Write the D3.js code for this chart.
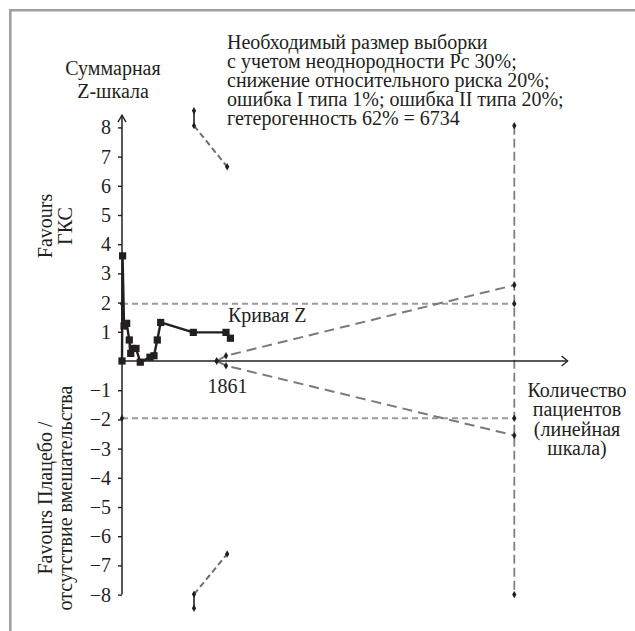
<!DOCTYPE html>
<html>
<head>
<meta charset="utf-8">
<script src="https://cdn.jsdelivr.net/npm/d3@7"></script>
<style>
  html, body { margin: 0; padding: 0; background: #fff; }
  svg { display: block; }
</style>
</head>
<body>
<svg id="chart" width="635" height="631"></svg>
<script>
// Cumulative Z-curve (number of patients vs cumulative Z-score)
const zPatients = [0, 10, 35, 80, 125, 150, 177, 240, 314, 480, 549, 606, 664, 1224, 1785, 1861];
const zScores   = [0, 3.6, 1.2, 1.29, 0.72, 0.26, 0.43, 0.43, -0.04, 0.13, 0.18, 0.72, 1.32, 0.98, 0.98, 0.78];

// Trial sequential monitoring boundaries (benefit / harm)
const tsbPatients = [1236, 1236, 1805];
const tsbUpper    = [8.57, 8.06, 6.65];
const tsbLower    = [-8.47, -7.99, -6.61];

// Futility (inner wedge) boundaries
const futPatients = [1625, 1785, 6734];
const futUpper    = [0, 0.18, 2.6];
const futLower    = [0, -0.16, -2.55];

// Conventional significance levels
const conventionalZ = [1.96, -1.96];

// Required information size
const requiredSize = 6734;
const ris = { top: 8.06, bottom: -8 };
const accrued = 1861;

// Axis extents and ticks
const yTicks = [-8, -7, -6, -5, -4, -3, -2, -1, 1, 2, 3, 4, 5, 6, 7, 8];
const xAxisEnd = 7650;
const yAxisTop = 8.42;

const annotationLines = [
  "Необходимый размер выборки",
  "с учетом неоднородности Рс 30%;",
  "снижение относительного риска 20%;",
  "ошибка I типа 1%; ошибка II типа 20%;",
  "гетерогенность 62% = 6734"
];
const yTitleLines = ["Суммарная", "Z-шкала"];
const xTitleLines = ["Количество", "пациентов", "(линейная", "шкала)"];
const favoursTop = ["Favours", "ГКС"];
const favoursBottom = ["Favours Плацебо /", "отсутствие вмешательства"];

const FONT = "'Liberation Serif', 'Times New Roman', serif";
const INK = "#231f20";
const fs = 20;

const svg = d3.select("#chart");
const x = d3.scaleLinear().domain([0, requiredSize]).range([122, 514.3]);
const y = d3.scaleLinear().domain([-8, 8]).range([594.6, 127.4]);

function label(sel) {
  return sel.style("font-family", FONT).style("font-size", fs + "px").attr("fill", INK);
}

// Figure frame (top and left rule)
svg.append("line").attr("x1", 10.3).attr("x2", 635).attr("y1", 10.3).attr("y2", 10.3)
  .attr("stroke", "#a0a0a0").attr("stroke-width", 2.6);
svg.append("line").attr("x1", 10.3).attr("x2", 10.3).attr("y1", 9).attr("y2", 631)
  .attr("stroke", "#a0a0a0").attr("stroke-width", 2.6);

const line = d3.line().x(d => x(d[0])).y(d => y(d[1]));
const zip = (a, b) => a.map((v, i) => [v, b[i]]);

// Conventional ±1.96 lines
conventionalZ.forEach(z => {
  svg.append("path").datum([[0, z], [requiredSize, z]])
    .attr("d", line).attr("fill", "none")
    .attr("stroke", "#9a9a9a").attr("stroke-width", 1.8).attr("stroke-dasharray", "6,4");
});

// Required information size vertical line
svg.append("path").datum([[requiredSize, ris.top], [requiredSize, ris.bottom]])
  .attr("d", line).attr("fill", "none")
  .attr("stroke", "#808080").attr("stroke-width", 1.8).attr("stroke-dasharray", "9,4");

// Futility wedge
[futUpper, futLower].forEach(vals => {
  svg.append("path").datum(zip(futPatients, vals))
    .attr("d", line).attr("fill", "none")
    .attr("stroke", "#7a7a7a").attr("stroke-width", 2).attr("stroke-dasharray", "10,6");
});

// Monitoring boundaries: solid first step, dashed after
[tsbUpper, tsbLower].forEach(vals => {
  const pts = zip(tsbPatients, vals);
  svg.append("path").datum(pts.slice(0, 2))
    .attr("d", line).attr("fill", "none")
    .attr("stroke", INK).attr("stroke-width", 1.6);
  svg.append("path").datum(pts.slice(1))
    .attr("d", line).attr("fill", "none")
    .attr("stroke", "#6e6e6e").attr("stroke-width", 2).attr("stroke-dasharray", "6,3.5");
});

// Axes
const yAxis = d3.axisLeft(y).tickValues(yTicks).tickSize(4).tickPadding(7)
  .tickFormat(d => d < 0 ? "\u2212" + Math.abs(d) : String(d));
const gy = svg.append("g").attr("transform", `translate(${x(0)},0)`).call(yAxis);
gy.select(".domain").remove();
gy.selectAll(".tick line").attr("stroke", INK).attr("stroke-width", 1.4);
label(gy.selectAll(".tick text"));

svg.append("line").attr("x1", x(0)).attr("x2", x(0)).attr("y1", y(-8)).attr("y2", y(yAxisTop))
  .attr("stroke", INK).attr("stroke-width", 1.5);
svg.append("path")
  .attr("d", `M${x(0) - 4},${y(yAxisTop) + 7} L${x(0)},${y(yAxisTop)} L${x(0) + 4},${y(yAxisTop) + 7}`)
  .attr("fill", "none").attr("stroke", INK).attr("stroke-width", 1.3);

svg.append("line").attr("x1", x(0)).attr("x2", x(xAxisEnd)).attr("y1", y(0)).attr("y2", y(0))
  .attr("stroke", INK).attr("stroke-width", 1.5);
svg.append("path")
  .attr("d", `M${x(xAxisEnd) - 6},${y(0) - 5} L${x(xAxisEnd)},${y(0)} L${x(xAxisEnd) - 6},${y(0) + 5}`)
  .attr("fill", "none").attr("stroke", INK).attr("stroke-width", 1.3);

// Boundary markers
const markerPts = []
  .concat(conventionalZ.flatMap(z => [[0, z], [requiredSize, z]]))
  .concat([[requiredSize, ris.top], [requiredSize, ris.bottom]])
  .concat(zip(futPatients, futUpper), zip(futPatients, futLower))
  .concat(zip(tsbPatients, tsbUpper), zip(tsbPatients, tsbLower));
svg.append("g").selectAll("path").data(markerPts).join("path")
  .attr("transform", d => `translate(${x(d[0])},${y(d[1])})`)
  .attr("d", d3.symbol(d3.symbolDiamond, 16))
  .attr("fill", INK);

// Z-curve
const zData = zip(zPatients, zScores);
svg.append("path").datum(zData).attr("d", line).attr("fill", "none")
  .attr("stroke", INK).attr("stroke-width", 2.4).attr("stroke-linejoin", "round");
svg.append("g").selectAll("rect").data(zData).join("rect")
  .attr("x", d => x(d[0]) - 3.6).attr("y", d => y(d[1]) - 3.6)
  .attr("width", 7.2).attr("height", 7.2).attr("fill", INK);

// Texts
const ann = label(svg.append("text").attr("x", 227).attr("y", 49));
annotationLines.forEach((t, i) => ann.append("tspan").attr("x", 227).attr("dy", i ? 19.1 : 0).text(t));

const yt = label(svg.append("text").attr("text-anchor", "middle").attr("y", 75));
yTitleLines.forEach((t, i) => yt.append("tspan").attr("x", 113).attr("dy", i ? 23 : 0).text(t));

const xt = label(svg.append("text").attr("text-anchor", "middle").attr("y", 397));
xTitleLines.forEach((t, i) => xt.append("tspan").attr("x", 577).attr("dy", i ? 19.4 : 0).text(t));

label(svg.append("text").attr("x", 228).attr("y", 322)).text("Кривая Z");
label(svg.append("text").attr("x", x(accrued) - 3).attr("y", 393).attr("text-anchor", "middle"))
  .text(String(accrued));

function rotated(lines, cx, cy) {
  const t = label(svg.append("text").attr("text-anchor", "middle")
    .attr("transform", `translate(${cx},${cy}) rotate(-90)`));
  lines.forEach((s, i) => t.append("tspan").attr("x", 0).attr("y", i * 20).text(s));
}
rotated(favoursTop, 52, 226);
rotated(favoursBottom, 52, 498);
</script>
</body>
</html>
